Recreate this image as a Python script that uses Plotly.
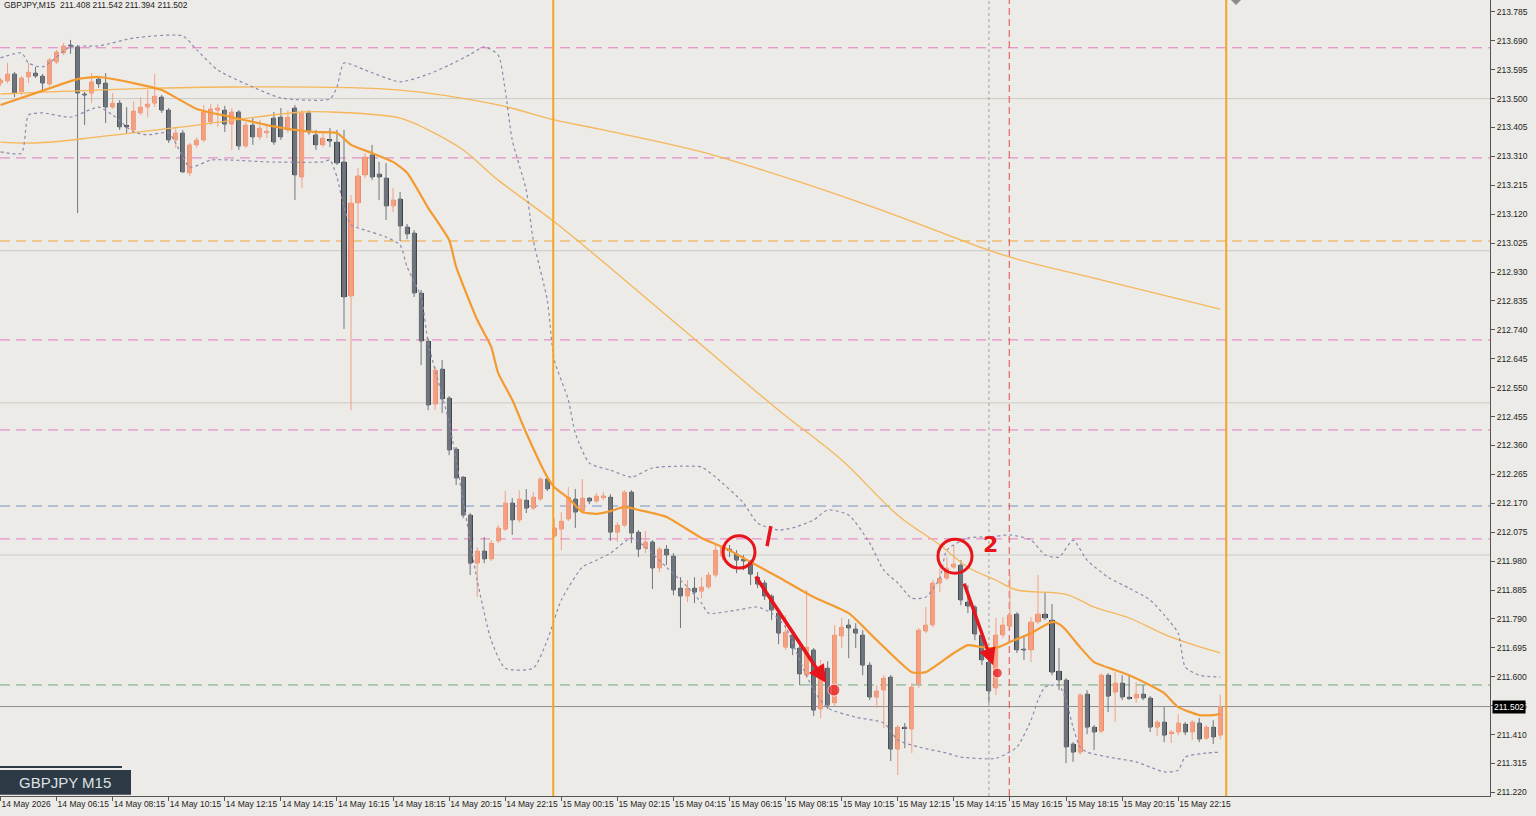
import pandas as pd
import plotly.graph_objects as go

# ---------------- data ----------------
times = pd.date_range("2026-05-14 04:15", periods=175, freq="15min")

opens = [213.551,213.558,213.581,213.522,213.571,213.584,213.574,213.548,213.620,213.650,
         213.676,213.670,213.515,213.518,213.564,213.551,213.472,213.485,213.410,213.397,
         213.453,213.472,213.485,213.505,213.462,213.364,213.387,213.256,213.348,213.364,
         213.423,213.462,213.462,213.416,213.456,213.344,213.413,213.374,213.387,213.436,
         213.439,213.397,213.469,213.242,213.453,213.381,213.348,213.364,213.357,213.292,
         212.851,213.157,213.249,213.315,213.252,213.239,213.147,213.170,213.078,213.058,
         212.861,212.703,212.496,212.611,212.516,212.348,212.256,212.131,211.973,212.013,
         211.987,212.046,212.085,212.171,212.115,212.180,212.154,212.184,212.250,212.062,
         212.085,212.118,212.184,212.144,212.187,212.177,212.190,212.190,212.075,212.098,
         212.207,212.075,212.023,212.043,211.957,212.019,211.996,211.891,211.865,211.891,
         211.881,211.895,211.934,211.996,212.019,212.003,211.987,211.977,211.927,211.908,
         211.865,211.809,211.697,211.737,211.694,211.605,211.688,211.494,211.628,211.514,
         211.734,211.770,211.757,211.737,211.638,211.533,211.556,211.599,211.362,211.434,
         211.428,211.576,211.750,211.770,211.908,211.924,211.960,211.967,211.845,211.829,
         211.737,211.648,211.563,211.737,211.766,211.806,211.691,211.688,211.780,211.806,
         211.786,211.618,211.589,211.379,211.352,211.543,211.434,211.421,211.605,211.549,
         211.579,211.533,211.530,211.543,211.530,211.434,211.451,211.415,211.418,211.444,
         211.418,211.448,211.398,211.434,211.408]
highs = [213.568,213.617,213.587,213.574,213.617,213.604,213.581,213.634,213.660,213.683,
         213.693,213.676,213.522,213.584,213.574,213.584,213.518,213.495,213.472,213.492,
         213.505,213.528,213.581,213.512,213.469,213.407,213.397,213.354,213.374,213.479,
         213.482,213.482,213.476,213.469,213.462,213.423,213.436,213.430,213.413,213.456,
         213.469,213.462,213.479,213.462,213.462,213.397,213.387,213.403,213.397,213.397,
         213.183,213.272,213.321,213.348,213.292,213.288,213.206,213.193,213.088,213.068,
         212.871,212.713,212.621,212.641,212.522,212.355,212.259,212.138,212.026,212.059,
         212.049,212.098,212.210,212.187,212.213,212.217,212.207,212.256,212.259,212.121,
         212.141,212.223,212.217,212.250,212.190,212.204,212.207,212.200,212.108,212.213,
         212.213,212.082,212.079,212.049,212.026,212.033,212.006,211.927,211.917,211.927,
         211.927,211.944,212.033,212.033,212.033,212.016,212.000,211.983,211.944,211.917,
         211.871,211.816,211.803,211.753,211.720,211.885,211.694,211.655,211.651,211.770,
         211.793,211.789,211.776,211.753,211.648,211.572,211.605,211.605,211.441,211.448,
         211.579,211.760,211.829,211.917,211.957,211.993,212.033,211.983,211.901,211.835,
         211.747,211.655,211.793,211.796,211.934,211.812,211.737,211.796,211.934,211.878,
         211.839,211.694,211.595,211.385,211.546,211.556,211.441,211.612,211.612,211.615,
         211.605,211.605,211.582,211.572,211.536,211.457,211.500,211.425,211.477,211.451,
         211.457,211.464,211.441,211.457,211.542]
lows = [213.541,213.551,213.505,213.512,213.551,213.568,213.528,213.541,213.614,213.643,
        213.647,213.124,213.413,213.485,213.535,213.420,213.466,213.397,213.387,213.387,
        213.446,213.439,213.472,213.453,213.354,213.338,213.256,213.246,213.338,213.357,
        213.413,213.407,213.390,213.331,213.331,213.338,213.348,213.364,213.370,213.348,
        213.364,213.387,213.167,213.206,213.381,213.331,213.341,213.341,213.282,212.743,
        212.476,213.078,213.239,213.232,213.167,213.101,213.127,213.032,213.038,212.848,
        212.624,212.476,212.476,212.467,212.328,212.230,212.121,211.934,211.862,211.973,
        211.980,212.039,212.079,212.066,212.108,212.138,212.148,212.177,212.210,212.056,
        212.016,212.111,212.089,212.138,212.167,212.171,212.180,212.046,212.043,212.092,
        212.039,211.993,212.006,211.888,211.944,211.967,211.868,211.760,211.845,211.842,
        211.858,211.888,211.927,211.983,211.993,211.940,211.950,211.901,211.891,211.852,
        211.786,211.707,211.688,211.671,211.572,211.595,211.471,211.464,211.494,211.504,
        211.694,211.661,211.694,211.605,211.523,211.497,211.431,211.323,211.277,211.365,
        211.349,211.563,211.743,211.763,211.878,211.917,211.954,211.835,211.809,211.720,
        211.638,211.514,211.540,211.727,211.760,211.678,211.655,211.648,211.773,211.786,
        211.605,211.556,211.316,211.320,211.343,211.411,211.359,211.415,211.484,211.451,
        211.523,211.523,211.514,211.523,211.418,211.405,211.385,211.382,211.408,211.408,
        211.392,211.385,211.392,211.379,211.394]
closes = [213.561,213.581,213.518,213.568,213.587,213.574,213.551,213.627,213.653,213.673,
          213.673,213.518,213.512,213.555,213.548,213.472,213.485,213.407,213.407,213.459,
          213.472,213.482,213.508,213.462,213.364,213.387,213.259,213.348,213.364,213.456,
          213.466,213.469,213.416,213.456,213.344,213.413,213.374,213.403,213.393,213.357,
          213.374,213.439,213.249,213.453,213.390,213.348,213.370,213.361,213.288,212.848,
          213.157,213.246,213.308,213.242,213.242,213.147,213.167,213.081,213.055,212.861,
          212.703,212.493,212.608,212.513,212.345,212.253,212.131,211.973,212.013,211.987,
          212.039,212.089,212.171,212.115,212.184,212.154,212.190,212.250,212.217,212.089,
          212.111,212.190,212.141,212.187,212.177,212.194,212.194,212.075,212.098,212.207,
          212.072,212.019,212.043,211.957,212.019,212.000,211.885,211.865,211.891,211.878,
          211.895,211.934,212.016,212.026,212.016,211.983,211.980,211.937,211.904,211.865,
          211.819,211.743,211.747,211.694,211.609,211.697,211.490,211.635,211.507,211.737,
          211.763,211.760,211.743,211.638,211.533,211.553,211.595,211.362,211.434,211.431,
          211.566,211.753,211.770,211.908,211.924,211.957,211.970,211.852,211.832,211.740,
          211.655,211.553,211.737,211.770,211.803,211.688,211.688,211.780,211.806,211.793,
          211.615,211.589,211.369,211.352,211.540,211.434,211.418,211.605,211.536,211.579,
          211.533,211.530,211.543,211.530,211.434,211.451,211.408,211.418,211.448,211.418,
          211.451,211.395,211.434,211.402,211.502]

# indicator lines, read at selected bars
ma_fast_bar = [0,5,11,14,19,23,28,33,38,42,45,48,50,53,56,58,61,64,65,68,70,71,73,75,78,79,81,83,85,87,89,91,95,100,
               104,107,111,116,121,125,130,132,136,138,140,142,144,147,150,151,152,154,156,159,161,164,166,168,171,173,174]
ma_fast_val = [213.479,213.518,213.564,213.571,213.551,213.528,213.466,213.439,213.413,213.397,213.390,213.387,213.348,
               213.321,213.292,213.256,213.141,213.035,212.947,212.773,212.684,212.598,212.510,212.401,212.256,212.223,
               212.187,212.141,212.135,212.144,212.158,212.148,212.125,212.056,212.016,211.977,211.927,211.862,211.809,
               211.720,211.615,211.615,211.678,211.704,211.697,211.694,211.714,211.743,211.780,211.773,211.753,211.697,
               211.648,211.622,211.605,211.572,211.546,211.500,211.474,211.474,211.477]

ma_mid_bar = [0,5,14,28,43,47,57,61,66,71,79,86,100,111,120,128,134,138,142,145,152,156,161,167,174]
ma_mid_val = [213.357,213.354,213.374,213.413,213.456,213.456,213.436,213.397,213.331,213.232,213.095,212.963,212.690,
              212.476,212.312,212.131,212.033,211.960,211.917,211.885,211.871,211.829,211.793,211.730,211.678]

ma_slow_bar = [0,19,33,57,71,79,86,100,114,128,143,157,174]
ma_slow_val = [213.515,213.532,213.538,213.528,213.479,213.430,213.397,213.325,213.226,213.114,212.986,212.904,212.808]

bb_up_bar = [0,3,4,6,10,14,19,26,28,31,36,40,47,48,49,52,57,61,64,67,69,71,72,73,75,76,78,79,81,82,84,87,90,93,97,100,
             102,106,108,111,113,116,118,121,124,126,128,130,132,134,135,138,141,144,147,149,151,153,155,158,161,164,
             166,168,169,171,174]
bb_up_val = [213.634,213.650,213.617,213.604,213.670,213.673,213.699,213.706,213.660,213.594,213.538,213.502,213.499,
             213.538,213.617,213.594,213.555,213.580,213.610,213.645,213.670,213.643,213.528,213.364,213.199,213.035,
             212.838,212.641,212.510,212.401,212.302,212.279,212.256,212.286,212.292,212.289,212.256,212.171,212.105,
             212.082,212.089,212.115,212.148,212.131,212.039,211.950,211.908,211.858,211.862,211.924,212.016,212.056,
             212.059,212.066,212.049,212.000,211.993,212.049,211.983,211.927,211.891,211.852,211.803,211.743,211.632,
             211.605,211.599]
bb_lo_bar = [0,3,4,6,10,14,16,19,21,24,27,30,33,38,46,47,48,49,50,52,55,57,58,60,61,62,64,66,68,70,72,76,78,80,83,85,87,
             90,92,95,98,100,101,105,108,110,112,114,116,118,122,126,128,131,135,137,142,145,147,148,149,151,152,153,154,
             155,159,162,164,166,168,169,172,174]
bb_lo_val = [213.325,213.321,213.446,213.453,213.439,213.472,213.446,213.390,213.381,213.387,213.275,213.298,213.298,
             213.292,213.292,213.298,213.242,213.144,213.085,213.068,213.045,213.019,212.947,212.848,212.697,212.608,
             212.434,212.180,211.917,211.720,211.628,211.628,211.720,211.852,211.960,211.983,212.006,212.056,212.026,
             211.960,211.895,211.842,211.809,211.819,211.829,211.809,211.763,211.655,211.556,211.497,211.467,211.448,
             211.392,211.369,211.349,211.336,211.332,211.369,211.457,211.523,211.566,211.572,211.523,211.434,211.369,
             211.352,211.332,211.320,211.303,211.287,211.293,211.336,211.349,211.352]

pink_levels = [213.667, 213.305, 212.707, 212.411, 212.053]
orange_level = 213.032
blue_level = 212.161
green_level = 211.573
round_levels = [213.5, 213.0, 212.5, 212.0]
bid_price = 211.502

price_ticks = [round(213.785 - 0.095 * k, 3) for k in range(28)]
tick_bars = list(range(0, 175, 8))
tick_text = [times[i].strftime("%d %b %Y") if i == 0 else times[i].strftime("%d %b %H:%M") for i in tick_bars]

# ---------------- figure ----------------
BG = "#ECEBE7"
BULL, BEAR = "#F0845C", "#29323C"
BULL_W, BEAR_W = "#F2A184", "#6F757B"
RED = "#E8141B"
idx = list(range(len(opens)))

fig = go.Figure()

fig.add_trace(go.Scatter(x=ma_slow_bar, y=ma_slow_val, mode="lines",
                         line=dict(color="#F6B65A", width=1.3, shape="spline"), hoverinfo="skip"))
fig.add_trace(go.Scatter(x=ma_mid_bar, y=ma_mid_val, mode="lines",
                         line=dict(color="#F6B65A", width=1.3, shape="spline"), hoverinfo="skip"))
fig.add_trace(go.Scatter(x=bb_up_bar, y=bb_up_val, mode="lines",
                         line=dict(color="#8E89AE", width=1.2, dash="dot", shape="spline", smoothing=0.6), hoverinfo="skip"))
fig.add_trace(go.Scatter(x=bb_lo_bar, y=bb_lo_val, mode="lines",
                         line=dict(color="#8E89AE", width=1.2, dash="dot", shape="spline", smoothing=0.6), hoverinfo="skip"))

fig.add_trace(go.Candlestick(x=idx, open=opens, high=highs, low=lows, close=closes,
                             increasing=dict(line=dict(color=BULL_W, width=1), fillcolor=BULL_W),
                             decreasing=dict(line=dict(color=BEAR_W, width=1), fillcolor=BEAR_W),
                             whiskerwidth=0, hoverinfo="skip"))
body_base = [min(o, c) for o, c in zip(opens, closes)]
body_h = [max(abs(c - o), 0.0012) for o, c in zip(opens, closes)]
body_col = [BULL if c >= o else BEAR for o, c in zip(opens, closes)]
fig.add_trace(go.Bar(x=idx, y=body_h, base=body_base, width=0.72,
                     marker=dict(color=body_col, line=dict(width=0)), hoverinfo="skip"))

fig.add_trace(go.Scatter(x=ma_fast_bar, y=ma_fast_val, mode="lines",
                         line=dict(color="#F39A30", width=2.2, shape="spline", smoothing=0.5), hoverinfo="skip"))

fig.add_trace(go.Scatter(x=[118.9, 142.2], y=[211.556, 211.612], mode="markers",
                         marker=dict(color=RED, size=[12, 10]), hoverinfo="skip"))

shapes = []
for lv in round_levels:
    shapes.append(dict(type="line", xref="paper", x0=0, x1=1, yref="y", y0=lv, y1=lv,
                       line=dict(color="#CBCAC6", width=1), layer="below"))
shapes.append(dict(type="line", xref="paper", x0=0, x1=1, yref="y", y0=bid_price, y1=bid_price,
                   line=dict(color="#8E8E8E", width=1), layer="below"))
for lv in pink_levels:
    shapes.append(dict(type="line", xref="paper", x0=0, x1=1, yref="y", y0=lv, y1=lv,
                       line=dict(color="#E67CC0", width=1, dash="10px,6px"), layer="below"))
shapes.append(dict(type="line", xref="paper", x0=0, x1=1, yref="y", y0=orange_level, y1=orange_level,
                   line=dict(color="#F0A436", width=1, dash="10px,6px"), layer="below"))
shapes.append(dict(type="line", xref="paper", x0=0, x1=1, yref="y", y0=blue_level, y1=blue_level,
                   line=dict(color="#7893BF", width=1, dash="10px,6px"), layer="below"))
shapes.append(dict(type="line", xref="paper", x0=0, x1=1, yref="y", y0=green_level, y1=green_level,
                   line=dict(color="#74A77A", width=1, dash="10px,6px"), layer="below"))
for xv in (78.85, 174.85):
    shapes.append(dict(type="line", xref="x", x0=xv, x1=xv, yref="paper", y0=0, y1=1,
                       line=dict(color="#F5A42A", width=2), layer="above"))
shapes.append(dict(type="line", xref="x", x0=141, x1=141, yref="paper", y0=0, y1=1,
                   line=dict(color="#A0A0A0", width=1, dash="dot"), layer="below"))
shapes.append(dict(type="line", xref="x", x0=143.9, x1=143.9, yref="paper", y0=0, y1=1,
                   line=dict(color="#E34A4A", width=1, dash="7px,4px"), layer="below"))
shapes.append(dict(type="circle", xref="x", yref="y", x0=103.07, x1=107.63, y0=211.957, y1=212.063,
                   line=dict(color=RED, width=3)))
shapes.append(dict(type="circle", xref="x", yref="y", x0=133.73, x1=138.59, y0=211.940, y1=212.052,
                   line=dict(color=RED, width=3)))
shapes.append(dict(type="line", xref="x", yref="y", x0=109.35, x1=109.9, y0=212.029, y1=212.095,
                   line=dict(color=RED, width=3.5)))
shapes.append(dict(type="rect", xref="paper", yref="paper", x0=0, x1=131 / 1490, y0=0.0015, y1=(796 - 770) / 796,
                   fillcolor="#2D3944", line=dict(width=0)))
shapes.append(dict(type="line", xref="paper", yref="paper", x0=0, x1=122 / 1490, y0=(796 - 767) / 796,
                   y1=(796 - 767) / 796, line=dict(color="#2D3944", width=2)))
# small gray marker at the top edge
shapes.append(dict(type="path", xref="paper", yref="paper",
                   path=f"M {1231/1490},1 L {1241/1490},1 L {1236/1490},{1 - 5/796} Z",
                   fillcolor="#8A8A8A", line=dict(width=0)))

annotations = [
    dict(x=117.8, y=211.579, ax=107.6, ay=211.934, xref="x", yref="y", axref="x", ayref="y",
         showarrow=True, arrowhead=2, arrowsize=1.0, arrowwidth=3.6, arrowcolor=RED, text=""),
    dict(x=141.6, y=211.638, ax=137.4, ay=211.911, xref="x", yref="y", axref="x", ayref="y",
         showarrow=True, arrowhead=2, arrowsize=1.0, arrowwidth=3.4, arrowcolor=RED, text=""),
    dict(x=141.2, y=212.033, xref="x", yref="y", text="<b>2</b>", showarrow=False,
         font=dict(family="DejaVu Sans", size=22, color=RED)),
    dict(x=0, y=1, xref="paper", yref="paper", xanchor="left", yanchor="top", xshift=2, yshift=2,
         text="GBPJPY,M15  211.408 211.542 211.394 211.502", showarrow=False,
         font=dict(family="Liberation Sans", size=8.5, color="#1E1E1E")),
    dict(x=65 / 1490, y=(796 - 782.5) / 796, xref="paper", yref="paper", xanchor="center", yanchor="middle",
         text="GBPJPY M15", showarrow=False,
         font=dict(family="Liberation Sans", size=15, color="#DDE1E5")),
    dict(x=1, y=bid_price, xref="paper", yref="y", xanchor="left", xshift=2, text="211.502", showarrow=False,
         bgcolor="#000000", borderpad=1, font=dict(family="Liberation Sans", size=8.5, color="#FFFFFF")),
]

fig.update_layout(
    width=1536, height=816,
    margin=dict(l=0, r=46, t=0, b=20, autoexpand=False),
    paper_bgcolor=BG, plot_bgcolor=BG,
    showlegend=False, bargap=0,
    shapes=shapes, annotations=annotations,
    font=dict(family="Liberation Sans", size=8.5, color="#1E1E1E"),
    xaxis=dict(range=[-0.07, 212.48], showgrid=False, zeroline=False, rangeslider=dict(visible=False),
               tickmode="array", tickvals=tick_bars, ticktext=tick_text, ticks="outside", ticklen=4,
               tickangle=0, automargin=False,
               tickcolor="#555", ticklabelposition="outside right", showline=True, linecolor="#555", linewidth=1,
               tickfont=dict(family="Liberation Sans", size=8.5, color="#1E1E1E")),
    yaxis=dict(range=[211.208, 213.824], side="right", showgrid=False, zeroline=False, automargin=False,
               tickmode="array", tickvals=price_ticks, ticktext=[f"{v:.3f}" for v in price_ticks],
               ticks="outside", ticklen=4, tickcolor="#555", showline=True, mirror=True,
               linecolor="#555", linewidth=1,
               tickfont=dict(family="Liberation Sans", size=8.5, color="#1E1E1E")),
)

fig.write_html("out.html")
